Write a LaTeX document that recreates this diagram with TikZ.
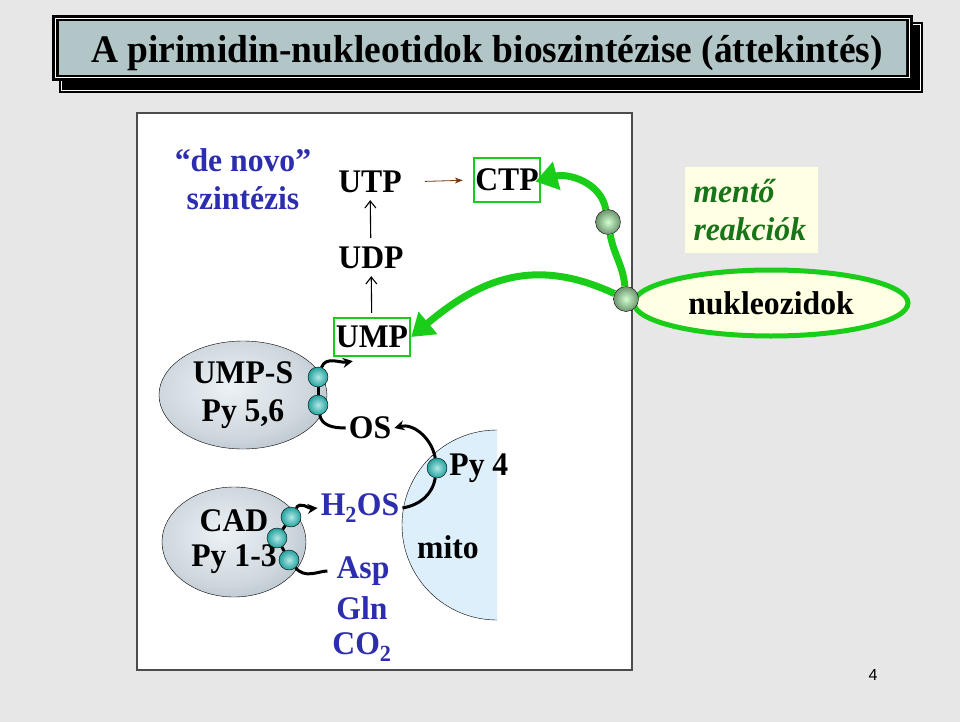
\documentclass[tikz,border=0pt]{standalone}
\usepackage{fontspec}
\setmainfont{Liberation Serif}[FakeStretch=0.96]
\setsansfont{Liberation Sans}
\usetikzlibrary{shapes.geometric, arrows.meta, positioning}

\definecolor{slidegray}{RGB}{231,231,231}
\definecolor{bannerdark}{RGB}{178,198,199}
\definecolor{bannerlight}{RGB}{252,253,253}
\definecolor{denovoblue}{RGB}{45,45,175}
\definecolor{salvgreen}{RGB}{25,205,25}
\definecolor{mentgreen}{RGB}{25,115,25}
\definecolor{mitoblue}{RGB}{222,239,252}
\definecolor{cream}{RGB}{255,255,228}
\definecolor{arrowbrown}{RGB}{115,55,20}
\definecolor{domteal}{RGB}{40,190,185}
\definecolor{enzlight}{RGB}{236,242,246}
\definecolor{enzgray}{RGB}{140,154,166}

\pgfdeclareradialshading{enzshade}{\pgfpoint{-4bp}{4bp}}{color(0bp)=(enzlight); color(22bp)=(enzlight!70!enzgray); color(50bp)=(enzgray); color(70bp)=(enzgray)}

\newcommand{\slidefont}{\fontsize{33}{38}\selectfont\bfseries}

\tikzstyle{metab} = [font=\slidefont, inner sep=3pt]
\tikzstyle{substrate} = [metab, text=denovoblue]
\tikzstyle{greenbox} = [draw=salvgreen, line width=2.2pt, inner sep=2pt, minimum height=38pt]
\tikzstyle{enzyme} = [ellipse, draw=black, thin, shading=enzshade, align=center, font=\slidefont]
\tikzstyle{enzdomain} = [circle, draw=black, thin, minimum size=20pt, inner sep=0pt, inner color=domteal!35!white, outer color=domteal!85!black]
\tikzstyle{salvdot} = [circle, draw=black, thin, minimum size=25pt, inner sep=0pt, inner color=green!18!white, outer color=green!15!gray]
\tikzstyle{linker} = [line width=3pt, black]
\tikzstyle{bond} = [line width=3pt, black, -{Stealth[length=10pt,width=10pt]}]
\tikzstyle{salvarrow} = [line width=7pt, salvgreen, -{Triangle[length=22pt,width=28pt]}]
\tikzstyle{uparrow} = [line width=1.1pt, -{Straight Barb[length=7pt,width=11pt]}]

\begin{document}
\begin{tikzpicture}[x=1pt, y=1pt]

        % Dia
        \fill[slidegray] (0,0) rectangle (960,-722);
        \useasboundingbox (0,0) rectangle (960,-722);

        % Cim
        \fill[black] (59,-22) rectangle (923,-93);
        \draw[white, line width=0.8pt] (61.5,-24.5) rectangle (920.5,-90.5);
        \fill[black] (52,-15) rectangle (913,-81);
        \draw[white, line width=1pt] (55.5,-18.5) rectangle (909.5,-77.5);
        \shade[top color=bannerdark, middle color=bannerlight, bottom color=bannerdark] (59,-22) rectangle (906,-75);
        \node (title) [font=\fontsize{39}{42}\selectfont\bfseries, anchor=base] at (487,-63) {A pirimidin-nukleotidok bioszintézise (áttekintés)};

        % Panel
        \draw[gray!60!black, line width=1.2pt, fill=white] (137,-113) rectangle (632,-670);
        \fill[mitoblue] (497,-430) arc[start angle=90, end angle=270, radius=95pt];
        \draw[thin] (497,-430) arc[start angle=90, end angle=270, radius=95pt];

        % Nodok
        \node (denovo) [substrate, align=center] at (243,-179) {“de novo”\\szintézis};
        \node (utp) [metab] at (370,-182) {UTP};
        \node (udp) [metab] at (371,-258) {UDP};
        \node (ump) [metab, greenbox] at (372,-337) {UMP};
        \node (ctp) [metab, greenbox, minimum height=44pt, inner sep=1.5pt] at (507,-180) {CTP};
        \node (os) [metab] at (370,-428) {OS};
        \node (umps) [enzyme, minimum width=168pt, minimum height=108pt] at (243,-395) {UMP-S\\Py 5,6};
        \node (cad) [enzyme, minimum width=144pt, minimum height=110pt, font=\fontsize{33}{35}\selectfont\bfseries] at (234,-542) {CAD\\Py 1-3};
        \node (h2os) [substrate] at (360,-508) {H\textsubscript{2}OS};
        \node (asp) [substrate] at (363,-571) {Asp};
        \node (gln) [substrate] at (362,-608) {Gln};
        \node (co2) [substrate] at (362,-647) {CO\textsubscript{2}};
        \node (mito) [metab] at (448,-547) {mito};

        \node (d5) [enzdomain] at (318,-377) {};
        \node (d6) [enzdomain] at (318,-405) {};
        \node (d1) [enzdomain] at (291,-517) {};
        \node (d2) [enzdomain] at (277,-538) {};
        \node (d3) [enzdomain] at (289,-560) {};
        \node (d4) [enzdomain] at (437,-468) {};
        \node (py4) [metab, right=-1pt of d4] {Py 4};

        \node (mento) [fill=cream, text=mentgreen, font=\fontsize{33}{38}\selectfont\bfseries\itshape, align=left, text width=115pt, inner xsep=9pt, minimum height=85pt] at (751,-210) {mentő\\reakciók};
        \node (nukl) [ellipse, draw=salvgreen, line width=5pt, fill=cream, minimum width=274pt, minimum height=66pt, font=\slidefont] at (771,-303) {nukleozidok};
        \node (via) [salvdot] at (608,-222) {};
        \node (junc) [salvdot] at (626,-299) {};
        \node (pagenum) [font=\fontsize{16}{16}\selectfont\sffamily] at (873,-675) {4};

        % Nyilak
        \draw[uparrow, shorten <=6pt, shorten >=4pt] (udp) -- (utp);
        \draw[uparrow, shorten <=4pt, shorten >=4pt] (ump) -- (udp);
        \draw[arrowbrown, thick, -{Stealth[length=8pt]}, shorten <=20pt, shorten >=10pt] (utp.east) -- (ctp.west);

        \draw[linker] (d5) -- (d6);
        \draw[linker] (d1) -- (d2) -- (d3);
        \draw[bond] (d5) to[out=70, in=190] ([xshift=20pt, yshift=-4pt]ump.south west);
        \draw[linker] (d6) to[out=-80, in=180] (os.west);
        \draw[bond] (d1) to[out=60, in=185] (h2os.west);
        \draw[linker, shorten >=6pt] (d3) to[out=-50, in=180] (asp.west);
        \draw[bond] (d4) to[out=100, in=15] (os.east);
        \draw[linker] (d4) to[out=-100, in=10] (h2os.east);

        \draw[salvarrow, shorten >=-6pt] (junc) to[out=95, in=-80] (via) to[out=100, in=15] (ctp.east);
        \draw[salvarrow] (junc) to[out=155, in=40, looseness=1.1] (ump.east);

\end{tikzpicture}
\end{document}
